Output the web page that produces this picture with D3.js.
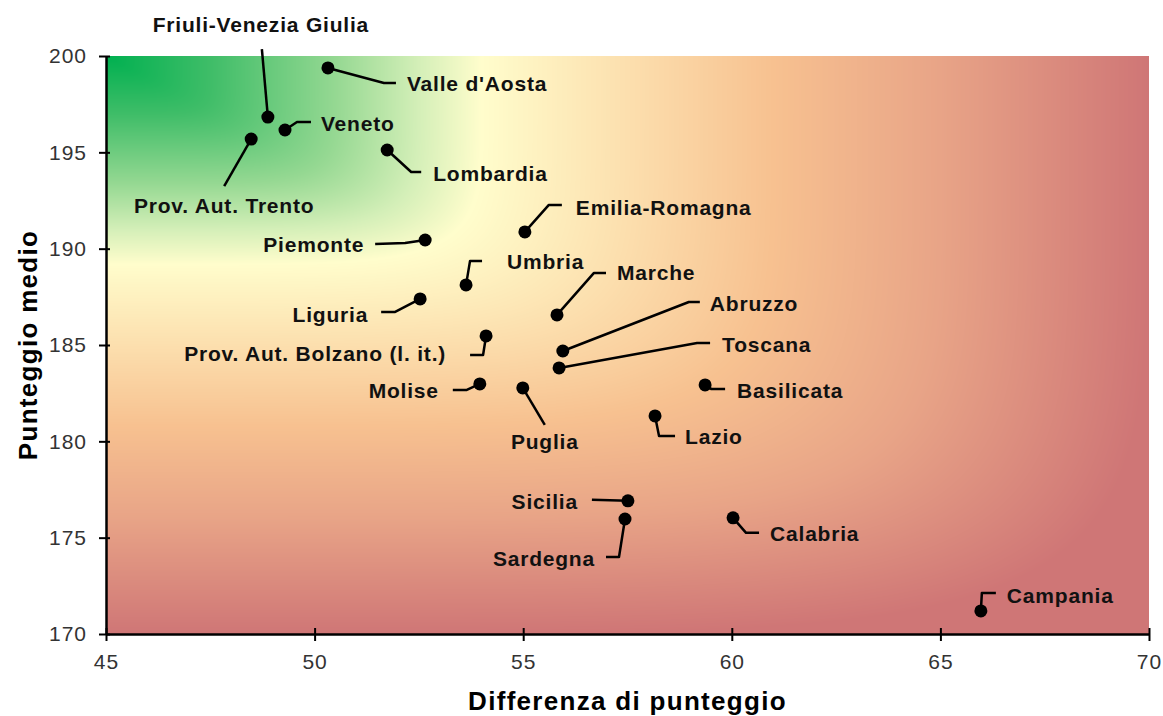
<!DOCTYPE html>
<html>
<head>
<meta charset="utf-8">
<script src="https://cdn.jsdelivr.net/npm/d3@7"></script>
<style>
  html, body { margin: 0; padding: 0; background: #fff; }
  svg { display: block; }
</style>
</head>
<body>
<svg id="chart" width="1163" height="716"></svg>
<script>
// ---------- DATA ----------
const regions = ["Valle d'Aosta", "Friuli-Venezia Giulia", "Veneto", "Prov. Aut. Trento", "Lombardia",
  "Emilia-Romagna", "Piemonte", "Umbria", "Marche", "Liguria", "Prov. Aut. Bolzano (l. it.)",
  "Abruzzo", "Toscana", "Molise", "Puglia", "Basilicata", "Lazio", "Sicilia", "Sardegna",
  "Calabria", "Campania"];
const differenza = [50.32, 48.88, 49.29, 48.48, 51.74, 55.04, 52.65, 53.63, 55.81, 52.53, 54.11,
  55.95, 55.86, 53.96, 54.99, 59.36, 58.16, 57.51, 57.44, 60.03, 65.97];
const punteggio = [199.38, 196.83, 196.16, 195.69, 195.12, 190.87, 190.45, 188.12, 186.56, 187.39, 185.47,
  184.69, 183.81, 182.98, 182.77, 182.93, 181.32, 176.91, 175.97, 176.03, 171.2];
const xTicks = [45, 50, 55, 60, 65, 70];
const yTicks = [170, 175, 180, 185, 190, 195, 200];
const xTitle = "Differenza di punteggio";
const yTitle = "Punteggio medio";

// ---------- LABEL LAYOUT (pixel offsets from each point) ----------
// leader: polyline offsets; t: [dx, dy-center, anchor]
const labelLayout = {
  "Valle d'Aosta": { leader: [[0,0],[56,15],[68,15]], t: [79, 16, "start"] },
  "Friuli-Venezia Giulia": { leader: [[0,0],[-6,-68]], t: [-7, -93, "middle"] },
  "Veneto": { leader: [[0,0],[12,-8],[26,-8]], t: [36, -6, "start"] },
  "Prov. Aut. Trento": { leader: [[0,0],[-27,47]], t: [-27, 66, "middle"] },
  "Lombardia": { leader: [[0,0],[24,22],[34,22]], t: [46, 23, "start"] },
  "Emilia-Romagna": { leader: [[0,0],[24,-27],[37,-27]], t: [51, -24, "start"] },
  "Piemonte": { leader: [[0,0],[-20,3],[-50,4]], t: [-61, 5, "end"] },
  "Umbria": { leader: [[0,0],[4,-24],[16,-24]], t: [41, -23, "start"] },
  "Marche": { leader: [[0,0],[37,-42],[49,-42]], t: [60, -42, "start"] },
  "Liguria": { leader: [[0,0],[-25,13],[-39,13]], t: [-52, 16, "end"] },
  "Prov. Aut. Bolzano (l. it.)": { leader: [[0,0],[-3,19],[-16,19]], t: [-40, 18, "end"] },
  "Abruzzo": { leader: [[0,0],[126,-49],[137,-49]], t: [147, -47, "start"] },
  "Toscana": { leader: [[0,0],[138,-25],[151,-25]], t: [163, -23, "start"] },
  "Molise": { leader: [[0,0],[-13,6],[-27,6]], t: [-41, 7, "end"] },
  "Puglia": { leader: [[0,0],[22,37]], t: [22, 54, "middle"] },
  "Basilicata": { leader: [[0,0],[6,4],[20,4]], t: [32, 6, "start"] },
  "Lazio": { leader: [[0,0],[4,20],[20,20]], t: [30, 21, "start"] },
  "Sicilia": { leader: [[0,0],[-36,-1]], t: [-50, 1, "end"] },
  "Sardegna": { leader: [[0,0],[-6,38],[-19,38]], t: [-30, 40, "end"] },
  "Calabria": { leader: [[0,0],[13,15],[26,15]], t: [37, 16, "start"] },
  "Campania": { leader: [[0,0],[1,-18],[15,-18]], t: [26, -15, "start"] }
};

// ---------- LAYOUT ----------
const margin = { left: 106, right: 1163 - 1149, top: 56, bottom: 716 - 634 };
const W = 1163, H = 716;
const pw = W - margin.left - margin.right;
const ph = H - margin.top - margin.bottom;

const x = d3.scaleLinear().domain([45, 70]).range([margin.left, margin.left + pw]);
const y = d3.scaleLinear().domain([170, 200]).range([margin.top + ph, margin.top]);

const svg = d3.select("#chart");

// ---------- BACKGROUND GRADIENT ----------
const stops = [
  [0.00, "#00b050"], [0.10, "#3fbd68"], [0.22, "#95d892"], [0.30, "#d4efb8"],
  [0.36, "#fffdcc"], [0.50, "#fcdfae"], [0.64, "#f7c190"], [0.80, "#e8a487"], [1.00, "#cf7676"]
];
const colorT = d3.scaleLinear().domain(stops.map(s => s[0])).range(stops.map(s => s[1]))
  .interpolate(d3.interpolateRgb).clamp(true);
const cw = Math.round(pw), ch = Math.round(ph);
const canvas = document.createElement("canvas");
canvas.width = cw; canvas.height = ch;
const ctx = canvas.getContext("2d");
const img = ctx.createImageData(cw, ch);
const p = 6;
for (let j = 0; j < ch; j++) {
  const v = j / (ch - 1);
  for (let i = 0; i < cw; i++) {
    const u = i / (cw - 1);
    const t = Math.pow(Math.pow(u, p) + Math.pow(v, p), 1 / p);
    const c = d3.rgb(colorT(Math.min(1, t)));
    const k = (j * cw + i) * 4;
    img.data[k] = c.r; img.data[k + 1] = c.g; img.data[k + 2] = c.b; img.data[k + 3] = 255;
  }
}
ctx.putImageData(img, 0, 0);
svg.append("image")
  .attr("x", margin.left).attr("y", margin.top)
  .attr("width", pw).attr("height", ph)
  .attr("preserveAspectRatio", "none")
  .attr("href", canvas.toDataURL("image/png"));

// ---------- AXES ----------
const tickFont = "'Liberation Sans', Arial, sans-serif";
const yAxis = svg.append("g").attr("transform", `translate(${margin.left},0)`)
  .call(d3.axisLeft(y).tickValues(yTicks).tickSize(7).tickPadding(12).tickSizeOuter(0));
yAxis.selectAll(".tick line").attr("x1", 4).attr("stroke", "#000").attr("stroke-width", 2);
yAxis.select(".domain").attr("stroke", "#000").attr("stroke-width", 2.5);
yAxis.selectAll(".tick text").attr("font-family", tickFont).attr("font-size", 21)
  .attr("letter-spacing", 1).attr("fill", "#333");

const xAxis = svg.append("g").attr("transform", `translate(0,${margin.top + ph})`)
  .call(d3.axisBottom(x).tickValues(xTicks).tickSize(7).tickPadding(13).tickSizeOuter(0));
xAxis.selectAll(".tick line").attr("y1", -6).attr("stroke", "#000").attr("stroke-width", 2);
xAxis.select(".domain").attr("stroke", "#000").attr("stroke-width", 2.5);
xAxis.selectAll(".tick text").attr("font-family", tickFont).attr("font-size", 21)
  .attr("letter-spacing", 1).attr("fill", "#333");

// ---------- TITLES ----------
const boldFont = "'Liberation Sans', Arial, sans-serif";
svg.append("text")
  .attr("x", margin.left + pw / 2).attr("y", 710)
  .attr("text-anchor", "middle")
  .attr("font-family", boldFont).attr("font-weight", "bold")
  .attr("font-size", 26).attr("letter-spacing", 1.3).attr("fill", "#000")
  .text(xTitle);
svg.append("text")
  .attr("transform", `translate(37,${margin.top + ph / 2}) rotate(-90)`)
  .attr("text-anchor", "middle")
  .attr("font-family", boldFont).attr("font-weight", "bold")
  .attr("font-size", 26).attr("letter-spacing", 1.3).attr("fill", "#000")
  .text(yTitle);

// ---------- POINTS, LEADERS, LABELS ----------
const data = regions.map((r, i) => ({ name: r, dx: differenza[i], pm: punteggio[i] }));
const line = d3.line();
const g = svg.append("g");

g.selectAll("path.leader").data(data).join("path")
  .attr("class", "leader")
  .attr("d", d => {
    const px = x(d.dx), py = y(d.pm);
    return line(labelLayout[d.name].leader.map(o => [px + o[0], py + o[1]]));
  })
  .attr("fill", "none").attr("stroke", "#000").attr("stroke-width", 2.5)
  .attr("stroke-linejoin", "round");

g.selectAll("circle").data(data).join("circle")
  .attr("cx", d => x(d.dx)).attr("cy", d => y(d.pm)).attr("r", 6.5)
  .attr("fill", "#000");

g.selectAll("text.lbl").data(data).join("text")
  .attr("class", "lbl")
  .attr("x", d => x(d.dx) + labelLayout[d.name].t[0])
  .attr("y", d => y(d.pm) + labelLayout[d.name].t[1] + 7.5)
  .attr("text-anchor", d => labelLayout[d.name].t[2])
  .attr("font-family", boldFont).attr("font-weight", "bold")
  .attr("font-size", 21).attr("letter-spacing", 0.8).attr("fill", "#111")
  .text(d => d.name);
</script>
</body>
</html>
